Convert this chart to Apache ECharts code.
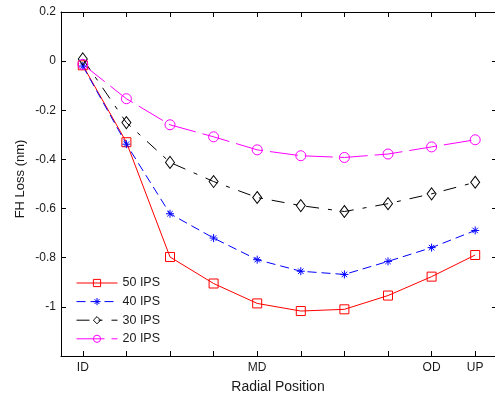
<!DOCTYPE html>
<html><head><meta charset="utf-8">
<script src="https://cdn.jsdelivr.net/npm/echarts@6/dist/echarts.min.js"></script>
<style>html,body{margin:0;padding:0;background:#fff}#c{width:495px;height:394px}</style>
</head><body><div id="c"></div>
<script>
var positions = ['P1','P2','P3','P4','P5','P6','P7','P8','P9','P10'];
var tickLabels = ['ID','','','','MD','','','','OD','UP'];
var ips50 = [-0.017,-0.330,-0.797,-0.905,-0.986,-1.017,-1.010,-0.954,-0.877,-0.789];
var ips40 = [-0.020,-0.338,-0.621,-0.720,-0.808,-0.855,-0.868,-0.815,-0.759,-0.689];
var ips30 = [0.009,-0.250,-0.412,-0.490,-0.555,-0.588,-0.612,-0.580,-0.540,-0.493];
var ips20 = [-0.013,-0.153,-0.259,-0.308,-0.361,-0.385,-0.392,-0.378,-0.349,-0.320];
var seriesNames = ['50 IPS','40 IPS','30 IPS','20 IPS'];
var yTickValues = [0.2,0,-0.2,-0.4,-0.6,-0.8,-1];

var chart = echarts.init(document.getElementById('c'), null, {renderer:'canvas'});
var font = 'Liberation Sans, Arial, sans-serif';
var star = 'path://M5,0 L5,10 M0,5 L10,5 M1.6,1.6 L8.4,8.4 M1.6,8.4 L8.4,1.6';
function mkSeries(name, data, color, symbol, size, dash) {
  return {
    name: name, type: 'line', data: data,
    symbol: symbol, symbolSize: size, showSymbol: true,
    lineStyle: {color: color, width: 1, type: dash},
    itemStyle: {color: 'transparent', borderColor: color, borderWidth: 1},
    emphasis: {disabled: true}, animation: false
  };
}
var xAxisCommon = {
  type: 'category', data: positions, boundaryGap: true,
  axisLine: {show: true, onZero: false, lineStyle: {color: '#000', width: 1}},
  axisTick: {show: true, inside: true, length: 5, alignWithLabel: true, interval: 0, lineStyle: {color: '#000'}},
  splitLine: {show: false}
};
var yAxisCommon = {
  type: 'value', min: -1.2, max: 0.2, interval: 0.2,
  axisLine: {show: true, onZero: false, lineStyle: {color: '#000', width: 1}},
  axisTick: {show: true, inside: true, length: 5, lineStyle: {color: '#000'}},
  splitLine: {show: false}
};
chart.setOption({
  animation: false,
  backgroundColor: '#fff',
  grid: {left: 61, right: -2, top: 12, bottom: 38, containLabel: false, outerBoundsMode: 'none'},
  xAxis: [
    Object.assign({}, xAxisCommon, {position: 'bottom',
      axisLabel: {show: true, interval: 0, margin: 6, color: '#1a1a1a', fontSize: 12, fontFamily: font,
        formatter: function (v, i) { return tickLabels[i]; }}}),
    Object.assign({}, xAxisCommon, {position: 'top', axisLabel: {show: false}})
  ],
  yAxis: [
    Object.assign({}, yAxisCommon, {position: 'left',
      axisLabel: {show: true, margin: 5, color: '#1a1a1a', fontSize: 12, fontFamily: font,
        formatter: function (v) {
          var r = Math.round(v * 10) / 10;
          for (var k = 0; k < yTickValues.length; k++) if (Math.abs(yTickValues[k] - r) < 1e-6) return String(r);
          return '';
        }}}),
    Object.assign({}, yAxisCommon, {position: 'right', axisLabel: {show: false}})
  ],
  legend: {
    orient: 'vertical', left: 76, top: 276, padding: 0,
    itemWidth: 41, itemHeight: 9, itemGap: 4.6,
    data: seriesNames,
    lineStyle: {width: 1},
    itemStyle: {borderWidth: 1},
    textStyle: {fontSize: 12.5, fontFamily: font, color: '#1a1a1a', lineHeight: 14}
  },
  graphic: [
    {type: 'text', x: 278, y: 387,
      style: {text: 'Radial Position', fontSize: 14, fontFamily: font, fill: '#1a1a1a', align: 'center', verticalAlign: 'middle'}},
    {type: 'text', x: 20, y: 179, rotation: Math.PI / 2,
      style: {text: 'FH Loss (nm)', fontSize: 13, fontFamily: font, fill: '#1a1a1a', align: 'center', verticalAlign: 'middle'}}
  ],
  series: [
    mkSeries(seriesNames[0], ips50, '#ff0000', 'rect', 9, 'solid'),
    mkSeries(seriesNames[1], ips40, '#0000ff', star, 8, [9, 5]),
    mkSeries(seriesNames[2], ips30, '#000000', 'diamond', [9, 12], [13, 9, 4, 9]),
    mkSeries(seriesNames[3], ips20, '#ff00ff', 'circle', 10, [28, 7])
  ]
});
</script></body></html>
